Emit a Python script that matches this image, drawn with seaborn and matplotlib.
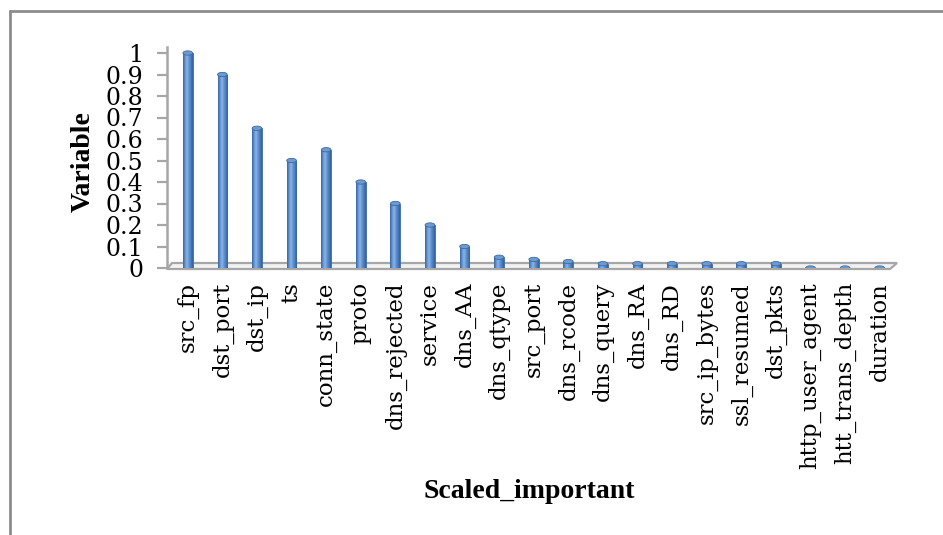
import numpy as np
import matplotlib
matplotlib.use("Agg")
import matplotlib.pyplot as plt
from matplotlib.colors import LinearSegmentedColormap
from matplotlib.patches import Ellipse, Polygon
from matplotlib.lines import Line2D
import seaborn as sns

# Feature importance values (scaled to the top feature)
features = ["src_fp", "dst_port", "dst_ip", "ts", "conn_state", "proto",
            "dns_rejected", "service", "dns_AA", "dns_qtype", "src_port",
            "dns_rcode", "dns_query", "dns_RA", "dns_RD", "src_ip_bytes",
            "ssl_resumed", "dst_pkts", "http_user_agent", "htt_trans_depth",
            "duration"]
scaled = [1.0, 0.9, 0.65, 0.5, 0.55, 0.4,
          0.3, 0.2, 0.1, 0.05, 0.04,
          0.03, 0.02, 0.02, 0.02, 0.02,
          0.02, 0.02, 0.0, 0.0,
          0.0]
y_ticks = [0, 0.1, 0.2, 0.3, 0.4, 0.5, 0.6, 0.7, 0.8, 0.9, 1]
y_tick_labels = ["0", "0.1", "0.2", "0.3", "0.4", "0.5", "0.6", "0.7", "0.8", "0.9", "1"]

sns.set_style("white")
plt.rcParams["font.family"] = ["DejaVu Serif"]
plt.rcParams["text.color"] = "black"
plt.rcParams["xtick.color"] = "black"
plt.rcParams["ytick.color"] = "black"

W, H = 943, 535
fig = plt.figure(figsize=(W / 100, H / 100), dpi=100)
fig.patch.set_facecolor("white")

YMAX = 1.03
ax_left, ax_right, ax_base = 167, 897, 268
ax = fig.add_axes([ax_left / W, (H - ax_base) / H,
                   (ax_right - ax_left) / W, YMAX * 215 / H])
ax.set_facecolor("none")

sns.barplot(x=features, y=scaled, color="#4F81BD", width=0.28,
            saturation=1, edgecolor="#3B6AA3", linewidth=0.6, ax=ax, zorder=3)

# cylinder shading on each column
cyl = LinearSegmentedColormap.from_list(
    "cyl", ["#35649E", "#5F91CF", "#8FB6E8", "#6494D2", "#4A7CBC", "#33609A"])
grad = np.linspace(0, 1, 64).reshape(1, -1)
bars = list(ax.patches)
for p in bars:
    x0, y0, w, h = p.get_x(), p.get_y(), p.get_width(), p.get_height()
    if h > 0:
        im = ax.imshow(grad, extent=[x0, x0 + w, y0, y0 + h], aspect="auto",
                       cmap=cyl, zorder=3.1, interpolation="bicubic")
        im.set_clip_path(p)
    # elliptical top cap of the cylinder
    cap = Ellipse((x0 + w / 2, y0 + h), w, 0.02, facecolor="#6E9AD2",
                  edgecolor="#3B6AA3", linewidth=0.6, zorder=3.3)
    ax.add_patch(cap)

ax.set_xlim(-0.6, 20.5)
ax.set_ylim(0, YMAX)
ax.set_aspect("auto")

# floor slab of the 3-D plot
px_x = 21.1 / (ax_right - ax_left)
px_y = YMAX / (YMAX * 215)
floor = Polygon([(-0.6, -1 * px_y), (20.5 - 7 * px_x, -1 * px_y),
                 (20.5, 5 * px_y), (-0.6 + 5 * px_x, 5 * px_y)],
                closed=True, facecolor="#F2F2F2", edgecolor="#A6A6A6",
                linewidth=1.6, zorder=2, clip_on=False)
ax.add_patch(floor)

ax.set_yticks(y_ticks)
ax.set_yticklabels(y_tick_labels)
ax.tick_params(axis="y", length=7, width=1.6, color="#A6A6A6", pad=10,
               labelsize=17, labelcolor="black", left=True)
ax.tick_params(axis="x", length=0, pad=10, labelsize=16.5, labelcolor="black")
plt.setp(ax.get_xticklabels(), rotation=90, ha="center", va="top")

for s in ["top", "right", "bottom"]:
    ax.spines[s].set_visible(False)
ax.spines["left"].set_color("#A6A6A6")
ax.spines["left"].set_linewidth(1.8)
ax.set_xlabel("")
ax.set_ylabel("")

bold = dict(family=["Liberation Serif", "DejaVu Serif"], fontweight="bold",
            fontsize=20, color="black")
fig.text(83 / W, 1 - 162 / H, "Variable", rotation=90, ha="center", va="center", **bold)
fig.text(529 / W, 1 - 492 / H, "Scaled_important", ha="center", va="center", **bold)

# chart frame
frame_kw = dict(color="#8C8C8C", linewidth=2, transform=fig.transFigure)
fig.add_artist(Line2D([10 / W, 10 / W], [1 - 11 / H, 0], **frame_kw))
fig.add_artist(Line2D([10 / W, 1], [1 - 11 / H, 1 - 11 / H], **frame_kw))

fig.savefig("out.png", dpi=100, facecolor="white")
